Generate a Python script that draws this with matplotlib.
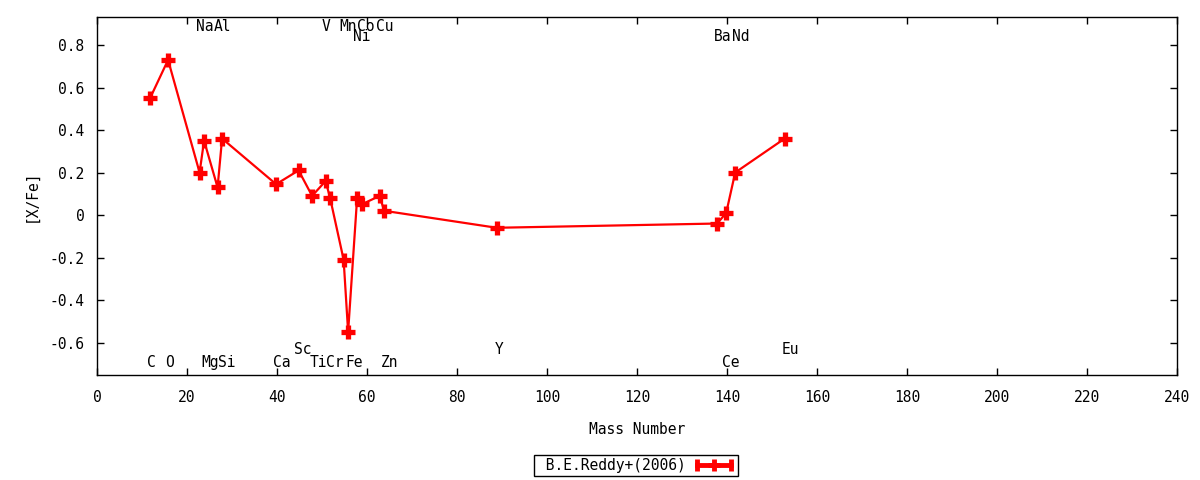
import matplotlib
matplotlib.use("Agg")
import matplotlib.pyplot as plt
from matplotlib.lines import Line2D
from matplotlib.legend_handler import HandlerLine2D, HandlerTuple
from matplotlib.ticker import FuncFormatter, MultipleLocator

plt.rcParams['font.family'] = ['DejaVu Sans Mono', 'DejaVu Sans']
plt.rcParams['font.size'] = 10

# abundances [X/Fe] vs mass number (B.E.Reddy+ 2006)
mass = [12, 16, 23, 24, 27, 28, 40, 45, 48, 51, 52, 55, 56, 58, 59, 63, 64,
        89, 138, 140, 142, 153]
xfe = [0.55, 0.73, 0.20, 0.35, 0.13, 0.36, 0.145, 0.21, 0.09, 0.16, 0.08,
       -0.21, -0.55, 0.08, 0.05, 0.09, 0.02, -0.06, -0.04, 0.01, 0.20, 0.36]

# element labels: name, x position, y position (data units)
elem_names = ['C', 'O', 'Na', 'Mg', 'Al', 'Si', 'Ca', 'Sc', 'Ti', 'V', 'Cr',
              'Mn', 'Fe', 'Ni', 'Co', 'Cu', 'Zn', 'Y', 'Ba', 'Ce', 'Nd', 'Eu']
elem_x = [12.2, 16.2, 24.0, 25.1, 27.8, 28.9, 41.1, 45.8, 49.1, 50.9, 52.9,
          55.8, 57.1, 58.9, 59.8, 64.0, 65.1, 89.3, 139.1, 140.9, 143.1, 154.0]
elem_y = [-0.696, -0.696, 0.885, -0.696, 0.885, -0.696, -0.696, -0.631,
          -0.696, 0.885, -0.696, 0.885, -0.696, 0.838, 0.885, 0.885, -0.696,
          -0.631, 0.838, -0.696, 0.838, -0.631]

fig = plt.figure(figsize=(12, 4.8), dpi=100)
ax = fig.add_axes([0.0808, 0.2187, 0.9002, 0.7459])

# slight shift left to mimic gnuplot pixel placement
ax.plot([m - 0.2 for m in mass], xfe, color='red', lw=1.6,
        marker='+', ms=9.5, mew=3.8)

for name, x, y in zip(elem_names, elem_x, elem_y):
    ax.text(x, y, name, ha='center', va='center', fontsize=10.5)

ax.set_xlim(0, 240)
ax.set_ylim(-0.753, 0.932)
ax.xaxis.set_major_locator(MultipleLocator(20))
ax.yaxis.set_major_locator(MultipleLocator(0.2))
ax.yaxis.set_major_formatter(FuncFormatter(lambda v, p: '%g' % round(v, 2)))
ax.tick_params(direction='in', top=True, right=True, length=5, width=1,
               labelsize=10.5)
ax.tick_params(axis='x', pad=11)
ax.tick_params(axis='y', pad=9)
for s in ax.spines.values():
    s.set_linewidth(1)

ax.set_xlabel('Mass Number', fontsize=10.5, labelpad=12)
ax.set_ylabel('[X/Fe]', fontsize=10.5, labelpad=8)

# gnuplot-like key: line with end ticks and a cross in the middle
h_caps = Line2D([], [], color='red', lw=3.5, marker='|', ms=9, mew=3.5)
h_mid = Line2D([], [], color='red', ls='none', marker='+', ms=9, mew=3.5)
leg = fig.legend([(h_caps, h_mid)], [' B.E.Reddy+(2006)'],
                 handler_map={h_caps: HandlerLine2D(numpoints=2),
                              h_mid: HandlerLine2D(numpoints=1),
                              tuple: HandlerTuple(ndivide=1)},
                 loc='center', bbox_to_anchor=(0.53, 0.031),
                 markerfirst=False, fancybox=False, edgecolor='black',
                 framealpha=1, fontsize=10.5, handlelength=2.9,
                 borderpad=0.2, handletextpad=0.5, borderaxespad=0)
leg.get_frame().set_linewidth(1)

fig.savefig('out.png', dpi=100)
